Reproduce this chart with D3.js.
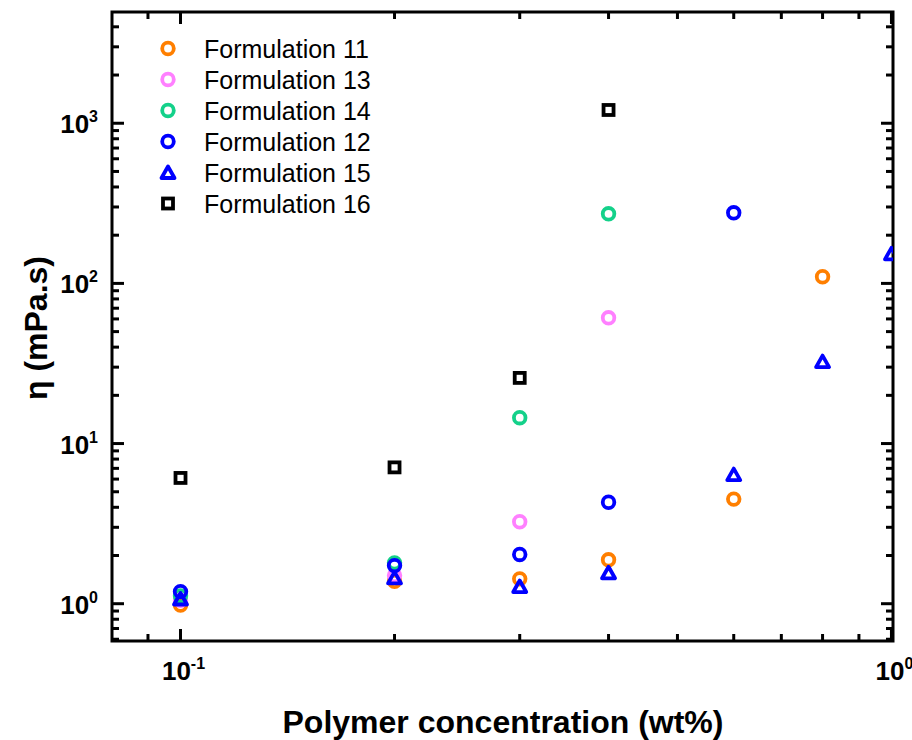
<!DOCTYPE html>
<meta charset="utf-8">
<style>
body { margin: 0; background: #fff; }
text { font-family: "Liberation Sans", Arial, sans-serif; }
.tick-label { font-weight: bold; font-size: 26px; }
.title { font-weight: bold; font-size: 32px; }
.legend text { font-size: 25px; }
</style>
<svg width="912" height="740"></svg>
<script src="https://d3js.org/d3.v7.min.js"></script>
<script>

var svg = d3.select("svg");

// Concentration (wt%) and viscosity (mPa.s)
var names  = ["Formulation 11", "Formulation 13", "Formulation 14", "Formulation 12", "Formulation 15", "Formulation 16"];
var colors = ["#ff7f00", "#ff80ff", "#14d18a", "#0000ff", "#0000ff", "#000000"];
var shapes = ["circle", "circle", "circle", "circle", "triangle", "square"];

var conc11 = [0.1, 0.2, 0.3, 0.4, 0.6, 0.8];
var visc11 = [0.98, 1.38, 1.43, 1.88, 4.5, 110];
var conc13 = [0.1, 0.2, 0.3, 0.4];
var visc13 = [1.05, 1.5, 3.25, 61];
var conc14 = [0.1, 0.2, 0.3, 0.4];
var visc14 = [1.12, 1.8, 14.5, 272];
var conc12 = [0.1, 0.2, 0.3, 0.4, 0.6];
var visc12 = [1.19, 1.73, 2.03, 4.3, 276];
var conc15 = [0.1, 0.2, 0.3, 0.4, 0.6, 0.8, 1.0];
var visc15 = [1.07, 1.45, 1.28, 1.56, 6.4, 32.5, 153];
var conc16 = [0.1, 0.2, 0.3, 0.4];
var visc16 = [6.1, 7.1, 25.7, 1210];

var series = [
  [conc11, visc11], [conc13, visc13], [conc14, visc14],
  [conc12, visc12], [conc15, visc15], [conc16, visc16]
];

var pLeft = 112, pRight = 893, pTop = 12, pBottom = 641;

var x = d3.scaleLog().domain([0.0801, 1.005]).range([pLeft, pRight]);
var y = d3.scaleLog().domain([0.585, 4950]).range([pBottom, pTop]);

// minor / major tick values
var xTicks = [], yTicks = [];
[0.01, 0.1, 1].forEach(function(p) {
  for (var k = 1; k < 10; k++) {
    var v = p * k;
    if (v >= x.domain()[0] && v <= x.domain()[1]) xTicks.push(v);
  }
});
[0.1, 1, 10, 100, 1000].forEach(function(p) {
  for (var k = 1; k < 10; k++) {
    var v = p * k;
    if (v >= y.domain()[0] && v <= y.domain()[1]) yTicks.push(v);
  }
});
function isMajor(v) { return Math.abs(Math.log10(v) - Math.round(Math.log10(v))) < 1e-6; }

svg.append("clipPath").attr("id", "plot")
  .append("rect").attr("x", pLeft).attr("y", pTop)
  .attr("width", pRight - pLeft).attr("height", pBottom - pTop);

// ticks (inward on all four sides)
var ticks = svg.append("g").attr("stroke", "#000").attr("stroke-width", 3);
xTicks.forEach(function(v) {
  var len = isMajor(v) ? 12 : 7;
  ticks.append("line").attr("x1", x(v)).attr("x2", x(v)).attr("y1", pBottom).attr("y2", pBottom - len);
  ticks.append("line").attr("x1", x(v)).attr("x2", x(v)).attr("y1", pTop).attr("y2", pTop + len);
});
yTicks.forEach(function(v) {
  var len = isMajor(v) ? 12 : 7;
  ticks.append("line").attr("y1", y(v)).attr("y2", y(v)).attr("x1", pLeft).attr("x2", pLeft + len);
  ticks.append("line").attr("y1", y(v)).attr("y2", y(v)).attr("x1", pRight).attr("x2", pRight - len);
});

svg.append("rect")
  .attr("x", pLeft).attr("y", pTop)
  .attr("width", pRight - pLeft).attr("height", pBottom - pTop)
  .attr("fill", "none").attr("stroke", "#000").attr("stroke-width", 3);

// tick labels
[0.1, 1].forEach(function(v) {
  var t = svg.append("text").attr("class", "tick-label")
    .attr("x", x(v) + 3).attr("y", 680).attr("text-anchor", "middle");
  t.append("tspan").text("10");
  t.append("tspan").attr("dy", -11).attr("font-size", 16).text(Math.round(Math.log10(v)));
});
[1, 10, 100, 1000].forEach(function(v) {
  var t = svg.append("text").attr("class", "tick-label")
    .attr("x", 98).attr("y", y(v) + 10).attr("text-anchor", "end");
  t.append("tspan").text("10");
  t.append("tspan").attr("dy", -11).attr("font-size", 16).text(Math.round(Math.log10(v)));
});

// axis titles
svg.append("text").attr("class", "title")
  .attr("x", 503).attr("y", 733).attr("text-anchor", "middle")
  .text("Polymer concentration (wt%)");
svg.append("text").attr("class", "title")
  .attr("transform", "translate(47,328) rotate(-90)")
  .attr("text-anchor", "middle")
  .text("η (mPa.s)");

function drawMarker(g, shape, cx, cy, color) {
  if (shape === "circle") {
    g.append("circle").attr("cx", cx).attr("cy", cy).attr("r", 5.8)
      .attr("fill", "none").attr("stroke", color).attr("stroke-width", 3.8);
  } else if (shape === "square") {
    g.append("rect").attr("x", cx - 5).attr("y", cy - 5).attr("width", 10).attr("height", 10)
      .attr("fill", "none").attr("stroke", color).attr("stroke-width", 3.8);
  } else {
    g.append("path")
      .attr("d", "M" + cx + "," + (cy - 6) + "L" + (cx + 6.5) + "," + (cy + 5.5) + "L" + (cx - 6.5) + "," + (cy + 5.5) + "Z")
      .attr("fill", "none").attr("stroke", color).attr("stroke-width", 3.8)
      .attr("stroke-linejoin", "round");
  }
}

var pts = svg.append("g").attr("clip-path", "url(#plot)");
series.forEach(function(s, i) {
  s[0].forEach(function(c, j) {
    drawMarker(pts, shapes[i], x(c), y(s[1][j]), colors[i]);
  });
});

// legend
var legend = svg.append("g").attr("class", "legend");
names.forEach(function(n, i) {
  var ly = 48.5 + i * 31;
  drawMarker(legend, shapes[i], 168, ly, colors[i]);
  legend.append("text").attr("x", 204).attr("y", ly + 9).text(n);
});

</script>
